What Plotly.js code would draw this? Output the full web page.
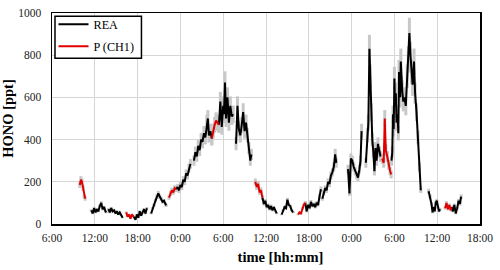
<!DOCTYPE html>
<html>
<head>
<meta charset="utf-8">
<script src="https://cdn.plot.ly/plotly-3.0.1.min.js"></script>
<style>html,body{margin:0;padding:0;background:#fff;}#chart{width:500px;height:270px;}</style>
</head>
<body>
<div id="chart"></div>
<script>
// Hours since 06:00 of day 1
const reaHours = [
  5.5,5.7,5.9,6.1,6.3,6.5,6.7,6.9,7.1,7.3,7.5,7.6,7.75,
  7.9,8.1,8.3,8.5,8.7,8.9,9.1,9.3,9.5,9.7,9.9,10.1,
  11.45,11.7,11.9,12.1,12.3,12.5,12.7,12.9,13.1,13.3,13.5,
  13.9,14.1,14.3,14.5,14.7,14.9,15.1,15.3,15.5,15.7,15.9,16.0,16.2,
  17.4,17.6,17.8,18.0,18.2,18.4,18.6,18.8,19.0,19.2,19.4,19.6,
  19.9,20.1,20.3,20.5,20.7,20.9,21.1,21.3,21.5,21.7,21.85,22.0,22.2,22.4,22.9,
  23.4,23.6,23.8,24.0,24.1,24.25,24.4,24.6,24.8,25.0,25.2,25.4,25.6,
  25.8,26.0,26.2,26.4,26.6,26.8,27.0,27.2,27.4,27.6,27.8,27.95,28.2,
  29.5,29.7,29.9,30.1,30.3,30.5,30.7,30.9,31.1,31.3,31.5,31.8,
  32.2,32.4,32.6,32.8,33.0,33.2,33.4,33.6,33.8,34.1,
  35.5,35.7,35.9,36.1,36.3,36.5,36.7,36.9,37.1,37.3,37.5,37.7,37.8,
  37.9,38.1,38.3,38.5,38.7,38.9,39.1,39.3,39.5,39.7,39.85,40.1,
  41.5,41.7,41.9,42.1,42.3,42.5,42.7,42.9,43.1,43.25,43.4,43.7,
  44.0,44.2,44.35,44.5,44.6,44.75,44.9,45.05,45.2,45.35,45.5,45.7,45.9,46.05,46.2,
  47.6,47.7,47.8,47.9,48.0,48.1,48.2,48.3,48.45,48.55,48.65,48.8,48.9,49.0,49.1,49.25,49.4,
  49.6,49.8,49.95,50.1,50.25,50.4,50.55,50.75,50.9,51.1,51.3,51.5,51.7,52.2,
  52.8,53.0,53.2,53.35,53.5,53.65,53.8,53.95,54.1,54.25,54.4,54.8,
  56.0,56.2,56.4,56.6,56.8,57.0,57.2,57.35
];
const reaValues = [
  65,50,75,55,70,60,85,100,70,80,60,55,null,
  70,55,75,60,65,50,60,45,55,40,30,null,
  35,20,45,30,60,40,55,70,50,75,null,
  50,75,90,110,130,145,130,120,105,110,95,88,null,
  165,175,160,185,175,210,200,240,230,265,285,null,
  300,340,320,370,350,400,390,430,410,480,500,420,440,405,null,
  470,580,460,560,520,670,500,600,480,560,510,520,null,
  380,560,450,420,470,530,440,480,420,360,300,330,null,
  125,95,110,80,90,70,85,65,80,60,50,null,
  45,65,80,75,115,90,85,65,55,null,
  100,60,90,75,105,85,95,80,100,90,130,165,null,
  120,150,170,160,200,190,230,245,270,330,290,null,
  260,145,310,300,270,250,230,220,260,300,440,null,
  290,420,480,830,700,530,400,340,250,360,300,380,340,320,null,
  300,340,520,450,690,560,620,480,520,430,720,600,770,650,630,580,600,
  560,700,780,905,800,720,660,770,620,530,410,270,160,null,
  155,130,95,55,80,60,100,110,75,60,70,null,
  80,60,90,50,75,110,95,130
];
const pHours = [
  3.9,4.05,4.2,4.35,4.5,4.65,5.0,
  10.4,10.6,10.8,11.0,11.2,11.45,12.0,
  16.4,16.6,16.8,17.0,17.2,17.4,18.0,
  22.4,22.6,22.8,23.0,23.2,23.4,24.0,
  28.5,28.7,28.9,29.1,29.3,29.5,30.0,
  34.5,34.7,34.9,35.1,35.3,35.5,36.0,
  46.3,46.5,46.65,46.8,47.0,47.2,47.4,47.55,48.0,
  55.1,55.3,55.5,55.7,55.9,56.0
];
const pValues = [
  185,210,200,170,130,120,null,
  55,35,45,25,45,35,null,
  125,145,160,150,170,165,null,
  405,440,470,490,480,470,null,
  200,175,190,150,160,125,null,
  45,55,50,75,90,100,null,
  310,290,500,350,320,280,250,235,null,
  75,100,70,90,65,80
];
const xTickVals = [0,6,12,18,24,30,36,42,48,54,60];
const xTickText = ['6:00','12:00','18:00','0:00','6:00','12:00','18:00','0:00','6:00','12:00','18:00'];
const yTickVals = [0,200,400,600,800,1000];

const serif = 'Liberation Serif, Times New Roman, serif';
const band = {type:'percent', value:8, color:'#c8c8c8', thickness:3, width:0};

const traces = [
  {x:reaHours, y:reaValues, mode:'lines', line:{color:'rgba(0,0,0,0)', width:0}, error_y:band, showlegend:false, hoverinfo:'skip'},
  {x:pHours, y:pValues, mode:'lines', line:{color:'rgba(0,0,0,0)', width:0}, error_y:band, showlegend:false, hoverinfo:'skip'},
  {x:reaHours, y:reaValues, name:'REA', mode:'lines', line:{color:'#000000', width:2}, connectgaps:false, legendgroup:'a'},
  {x:pHours, y:pValues, name:'P (CH1)', mode:'lines', line:{color:'#e00000', width:2}, connectgaps:false, legendgroup:'b'}
];

const axisCommon = {
  showgrid:true, gridcolor:'#d6d6d6', gridwidth:1,
  showline:true, linecolor:'#000', linewidth:1.5, mirror:true,
  ticks:'', zeroline:false,
  tickfont:{family:serif, size:11.5, color:'#222'}
};

const layout = {
  width:500, height:270,
  margin:{l:52, r:20, t:10, b:46},
  paper_bgcolor:'#fff', plot_bgcolor:'#fff',
  showlegend:true,
  xaxis:Object.assign({}, axisCommon, {
    range:[0,60], tickmode:'array', tickvals:xTickVals, ticktext:xTickText, ticklabelstandoff:3,
    title:{text:'&nbsp;&nbsp;&nbsp;&nbsp;&nbsp;&nbsp;&nbsp;&nbsp;<b>time [hh:mm]</b>', font:{family:serif, size:14.5, color:'#000'}, standoff:8}
  }),
  yaxis:Object.assign({}, axisCommon, {
    range:[0,1000], tickmode:'array', tickvals:yTickVals, ticklabelstandoff:7,
    title:{text:'<b>HONO [ppt]</b>', font:{family:serif, size:14.5, color:'#000'}, standoff:3}
  }),
  shapes:[{type:'rect', xref:'paper', yref:'paper', x0:0.007, x1:0.209, y0:0.785, y1:0.9846,
    fillcolor:'#fff', line:{color:'#000', width:1.5}, layer:'above'}],
  legend:{
    x:0.0035, y:1.0154, xanchor:'left', yanchor:'top',
    bgcolor:'rgba(0,0,0,0)', borderwidth:0,
    font:{family:serif, size:12.2, color:'#000'},
    tracegroupgap:3
  }
};

Plotly.newPlot('chart', traces, layout, {staticPlot:true, displayModeBar:false});
</script>
</body>
</html>
